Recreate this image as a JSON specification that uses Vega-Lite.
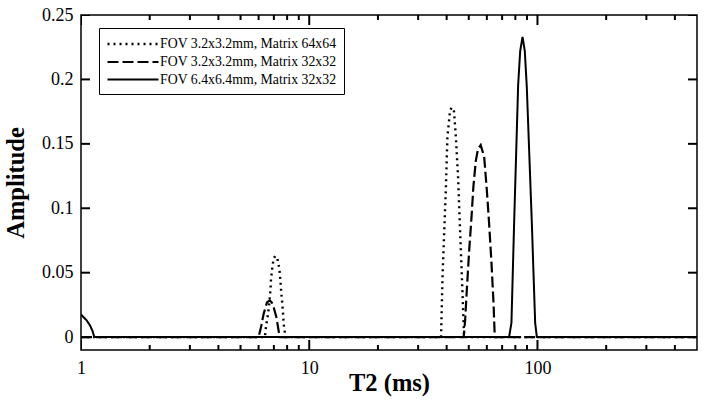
{
  "$schema": "https://vega.github.io/schema/vega-lite/v6.json",
  "autosize": {"type": "none"},
  "width": 616,
  "height": 335,
  "padding": {"left": 81, "top": 15, "right": 7, "bottom": 51},
  "background": "white",
  "config": {
    "view": {"stroke": "black", "strokeWidth": 1.5},
    "axis": {
      "grid": false,
      "domain": false,
      "labelFont": "Liberation Serif",
      "labelFontSize": 18,
      "labelColor": "black",
      "titleFont": "Liberation Serif",
      "titleFontSize": 24.5,
      "titleFontWeight": "bold",
      "titleColor": "black"
    },
    "legend": {
      "labelFont": "Liberation Serif",
      "labelFontSize": 13.8,
      "labelColor": "black",
      "labelLimit": 0
    }
  },
  "datasets": {
    "curves": [
      {"T2": 1, "Amp": 0, "series": "FOV 3.2x3.2mm, Matrix 64x64"},
      {"T2": 6.40, "Amp": 0, "series": "FOV 3.2x3.2mm, Matrix 64x64"},
      {"T2": 6.42, "Amp": 0.004, "series": "FOV 3.2x3.2mm, Matrix 64x64"},
      {"T2": 6.49, "Amp": 0.010, "series": "FOV 3.2x3.2mm, Matrix 64x64"},
      {"T2": 6.60, "Amp": 0.018, "series": "FOV 3.2x3.2mm, Matrix 64x64"},
      {"T2": 6.69, "Amp": 0.027, "series": "FOV 3.2x3.2mm, Matrix 64x64"},
      {"T2": 6.76, "Amp": 0.036, "series": "FOV 3.2x3.2mm, Matrix 64x64"},
      {"T2": 6.80, "Amp": 0.045, "series": "FOV 3.2x3.2mm, Matrix 64x64"},
      {"T2": 6.88, "Amp": 0.053, "series": "FOV 3.2x3.2mm, Matrix 64x64"},
      {"T2": 6.98, "Amp": 0.061, "series": "FOV 3.2x3.2mm, Matrix 64x64"},
      {"T2": 7.10, "Amp": 0.063, "series": "FOV 3.2x3.2mm, Matrix 64x64"},
      {"T2": 7.25, "Amp": 0.061, "series": "FOV 3.2x3.2mm, Matrix 64x64"},
      {"T2": 7.40, "Amp": 0.053, "series": "FOV 3.2x3.2mm, Matrix 64x64"},
      {"T2": 7.47, "Amp": 0.045, "series": "FOV 3.2x3.2mm, Matrix 64x64"},
      {"T2": 7.53, "Amp": 0.036, "series": "FOV 3.2x3.2mm, Matrix 64x64"},
      {"T2": 7.61, "Amp": 0.027, "series": "FOV 3.2x3.2mm, Matrix 64x64"},
      {"T2": 7.68, "Amp": 0.018, "series": "FOV 3.2x3.2mm, Matrix 64x64"},
      {"T2": 7.73, "Amp": 0.010, "series": "FOV 3.2x3.2mm, Matrix 64x64"},
      {"T2": 7.87, "Amp": 0, "series": "FOV 3.2x3.2mm, Matrix 64x64"},
      {"T2": 37.8, "Amp": 0, "series": "FOV 3.2x3.2mm, Matrix 64x64"},
      {"T2": 38.4, "Amp": 0.049, "series": "FOV 3.2x3.2mm, Matrix 64x64"},
      {"T2": 38.9, "Amp": 0.075, "series": "FOV 3.2x3.2mm, Matrix 64x64"},
      {"T2": 39.7, "Amp": 0.116, "series": "FOV 3.2x3.2mm, Matrix 64x64"},
      {"T2": 40.3, "Amp": 0.155, "series": "FOV 3.2x3.2mm, Matrix 64x64"},
      {"T2": 41.4, "Amp": 0.176, "series": "FOV 3.2x3.2mm, Matrix 64x64"},
      {"T2": 42.1, "Amp": 0.178, "series": "FOV 3.2x3.2mm, Matrix 64x64"},
      {"T2": 43.0, "Amp": 0.177, "series": "FOV 3.2x3.2mm, Matrix 64x64"},
      {"T2": 43.8, "Amp": 0.158, "series": "FOV 3.2x3.2mm, Matrix 64x64"},
      {"T2": 44.9, "Amp": 0.124, "series": "FOV 3.2x3.2mm, Matrix 64x64"},
      {"T2": 45.8, "Amp": 0.083, "series": "FOV 3.2x3.2mm, Matrix 64x64"},
      {"T2": 46.9, "Amp": 0.036, "series": "FOV 3.2x3.2mm, Matrix 64x64"},
      {"T2": 47.7, "Amp": 0, "series": "FOV 3.2x3.2mm, Matrix 64x64"},
      {"T2": 500, "Amp": 0, "series": "FOV 3.2x3.2mm, Matrix 64x64"},

      {"T2": 1, "Amp": 0, "series": "FOV 3.2x3.2mm, Matrix 32x32"},
      {"T2": 6.0, "Amp": 0, "series": "FOV 3.2x3.2mm, Matrix 32x32"},
      {"T2": 6.17, "Amp": 0.009, "series": "FOV 3.2x3.2mm, Matrix 32x32"},
      {"T2": 6.31, "Amp": 0.018, "series": "FOV 3.2x3.2mm, Matrix 32x32"},
      {"T2": 6.53, "Amp": 0.027, "series": "FOV 3.2x3.2mm, Matrix 32x32"},
      {"T2": 6.71, "Amp": 0.0285, "series": "FOV 3.2x3.2mm, Matrix 32x32"},
      {"T2": 6.85, "Amp": 0.027, "series": "FOV 3.2x3.2mm, Matrix 32x32"},
      {"T2": 6.99, "Amp": 0.023, "series": "FOV 3.2x3.2mm, Matrix 32x32"},
      {"T2": 7.18, "Amp": 0.0155, "series": "FOV 3.2x3.2mm, Matrix 32x32"},
      {"T2": 7.42, "Amp": 0, "series": "FOV 3.2x3.2mm, Matrix 32x32"},
      {"T2": 47.5, "Amp": 0, "series": "FOV 3.2x3.2mm, Matrix 32x32"},
      {"T2": 48.2, "Amp": 0.013, "series": "FOV 3.2x3.2mm, Matrix 32x32"},
      {"T2": 49.0, "Amp": 0.036, "series": "FOV 3.2x3.2mm, Matrix 32x32"},
      {"T2": 50.2, "Amp": 0.067, "series": "FOV 3.2x3.2mm, Matrix 32x32"},
      {"T2": 51.4, "Amp": 0.093, "series": "FOV 3.2x3.2mm, Matrix 32x32"},
      {"T2": 52.4, "Amp": 0.117, "series": "FOV 3.2x3.2mm, Matrix 32x32"},
      {"T2": 53.7, "Amp": 0.137, "series": "FOV 3.2x3.2mm, Matrix 32x32"},
      {"T2": 54.9, "Amp": 0.146, "series": "FOV 3.2x3.2mm, Matrix 32x32"},
      {"T2": 56.4, "Amp": 0.149, "series": "FOV 3.2x3.2mm, Matrix 32x32"},
      {"T2": 58.4, "Amp": 0.140, "series": "FOV 3.2x3.2mm, Matrix 32x32"},
      {"T2": 60.0, "Amp": 0.114, "series": "FOV 3.2x3.2mm, Matrix 32x32"},
      {"T2": 61.4, "Amp": 0.088, "series": "FOV 3.2x3.2mm, Matrix 32x32"},
      {"T2": 62.9, "Amp": 0.057, "series": "FOV 3.2x3.2mm, Matrix 32x32"},
      {"T2": 64.2, "Amp": 0.026, "series": "FOV 3.2x3.2mm, Matrix 32x32"},
      {"T2": 65.0, "Amp": 0, "series": "FOV 3.2x3.2mm, Matrix 32x32"},
      {"T2": 500, "Amp": 0, "series": "FOV 3.2x3.2mm, Matrix 32x32"},

      {"T2": 1.0, "Amp": 0.0177, "series": "FOV 6.4x6.4mm, Matrix 32x32"},
      {"T2": 1.024, "Amp": 0.0156, "series": "FOV 6.4x6.4mm, Matrix 32x32"},
      {"T2": 1.059, "Amp": 0.013, "series": "FOV 6.4x6.4mm, Matrix 32x32"},
      {"T2": 1.095, "Amp": 0.0091, "series": "FOV 6.4x6.4mm, Matrix 32x32"},
      {"T2": 1.121, "Amp": 0.0052, "series": "FOV 6.4x6.4mm, Matrix 32x32"},
      {"T2": 1.144, "Amp": 0, "series": "FOV 6.4x6.4mm, Matrix 32x32"},
      {"T2": 75.1, "Amp": 0, "series": "FOV 6.4x6.4mm, Matrix 32x32"},
      {"T2": 76.9, "Amp": 0.011, "series": "FOV 6.4x6.4mm, Matrix 32x32"},
      {"T2": 79.0, "Amp": 0.088, "series": "FOV 6.4x6.4mm, Matrix 32x32"},
      {"T2": 82.3, "Amp": 0.196, "series": "FOV 6.4x6.4mm, Matrix 32x32"},
      {"T2": 84.0, "Amp": 0.222, "series": "FOV 6.4x6.4mm, Matrix 32x32"},
      {"T2": 86.0, "Amp": 0.233, "series": "FOV 6.4x6.4mm, Matrix 32x32"},
      {"T2": 88.0, "Amp": 0.222, "series": "FOV 6.4x6.4mm, Matrix 32x32"},
      {"T2": 89.8, "Amp": 0.194, "series": "FOV 6.4x6.4mm, Matrix 32x32"},
      {"T2": 94.5, "Amp": 0.088, "series": "FOV 6.4x6.4mm, Matrix 32x32"},
      {"T2": 97.7, "Amp": 0.011, "series": "FOV 6.4x6.4mm, Matrix 32x32"},
      {"T2": 99.4, "Amp": 0, "series": "FOV 6.4x6.4mm, Matrix 32x32"},
      {"T2": 500, "Amp": 0, "series": "FOV 6.4x6.4mm, Matrix 32x32"}
    ],
    "xmajor": [{"v": 1}, {"v": 10}, {"v": 100}],
    "xminor": [
      {"v": 2}, {"v": 3}, {"v": 4}, {"v": 5}, {"v": 6}, {"v": 7}, {"v": 8}, {"v": 9},
      {"v": 20}, {"v": 30}, {"v": 40}, {"v": 50}, {"v": 60}, {"v": 70}, {"v": 80}, {"v": 90},
      {"v": 200}, {"v": 300}, {"v": 400}
    ],
    "yticks": [
      {"v": 0}, {"v": 0.05}, {"v": 0.1}, {"v": 0.15}, {"v": 0.2}, {"v": 0.25}
    ]
  },
  "layer": [
    {
      "data": {"name": "curves"},
      "mark": {"type": "line", "color": "black", "clip": true},
      "encoding": {
        "x": {
          "field": "T2", "type": "quantitative",
          "scale": {"type": "log", "domain": [1, 500], "nice": false},
          "axis": {
            "title": "T2 (ms)",
            "titlePadding": -6,
            "values": [1, 10, 100],
            "format": "d",
            "ticks": false,
            "tickSize": 0,
            "labelPadding": 9,
            "labelFlush": false,
            "labelOverlap": false
          }
        },
        "y": {
          "field": "Amp", "type": "quantitative",
          "scale": {"domain": [-0.01, 0.25], "nice": false, "zero": false},
          "axis": {
            "title": "Amplitude",
            "values": [0, 0.05, 0.1, 0.15, 0.2, 0.25],
            "format": "~g",
            "ticks": false,
            "tickSize": 0,
            "labelPadding": 8,
            "titlePadding": 13,
            "labelFlush": false
          }
        },
        "detail": {"field": "series"},
        "strokeDash": {
          "field": "series", "type": "nominal",
          "scale": {
            "domain": ["FOV 3.2x3.2mm, Matrix 64x64", "FOV 3.2x3.2mm, Matrix 32x32", "FOV 6.4x6.4mm, Matrix 32x32"],
            "range": [[2, 4], [11, 4], [1, 0]]
          },
          "legend": {
            "title": null,
            "orient": "none",
            "legendX": 18,
            "legendY": 13,
            "symbolType": "M-1,0L5.8,0",
            "symbolSize": 225,
            "symbolStrokeColor": "black",
            "labelOffset": 36,
            "rowPadding": 2,
            "padding": 7,
            "strokeColor": "black",
            "fillColor": "white",
            "cornerRadius": 0
          }
        },
        "strokeWidth": {
          "field": "series", "type": "nominal",
          "scale": {
            "domain": ["FOV 3.2x3.2mm, Matrix 64x64", "FOV 3.2x3.2mm, Matrix 32x32", "FOV 6.4x6.4mm, Matrix 32x32"],
            "range": [2.4, 2, 3.2]
          }
        }
      }
    },
    {
      "data": {"name": "xmajor"},
      "mark": {"type": "tick", "orient": "vertical", "color": "black", "thickness": 2, "opacity": 1, "clip": true, "size": 20},
      "encoding": {
        "x": {"field": "v", "type": "quantitative"},
        "y": {"datum": -0.01, "type": "quantitative"}
      }
    },
    {
      "data": {"name": "xminor"},
      "mark": {"type": "tick", "orient": "vertical", "color": "black", "thickness": 2, "opacity": 1, "clip": true, "size": 10},
      "encoding": {
        "x": {"field": "v", "type": "quantitative"},
        "y": {"datum": -0.01, "type": "quantitative"}
      }
    },
    {
      "data": {"name": "xmajor"},
      "mark": {"type": "tick", "orient": "vertical", "color": "black", "thickness": 2, "opacity": 1, "clip": true, "size": 20},
      "encoding": {
        "x": {"field": "v", "type": "quantitative"},
        "y": {"datum": 0.25, "type": "quantitative"}
      }
    },
    {
      "data": {"name": "xminor"},
      "mark": {"type": "tick", "orient": "vertical", "color": "black", "thickness": 2, "opacity": 1, "clip": true, "size": 10},
      "encoding": {
        "x": {"field": "v", "type": "quantitative"},
        "y": {"datum": 0.25, "type": "quantitative"}
      }
    },
    {
      "data": {"name": "yticks"},
      "mark": {"type": "tick", "orient": "horizontal", "color": "black", "thickness": 2, "opacity": 1, "clip": true, "size": 18},
      "encoding": {
        "y": {"field": "v", "type": "quantitative"},
        "x": {"datum": 1, "type": "quantitative"}
      }
    },
    {
      "data": {"name": "yticks"},
      "mark": {"type": "tick", "orient": "horizontal", "color": "black", "thickness": 2, "opacity": 1, "clip": true, "size": 18},
      "encoding": {
        "y": {"field": "v", "type": "quantitative"},
        "x": {"datum": 500, "type": "quantitative"}
      }
    }
  ]
}
